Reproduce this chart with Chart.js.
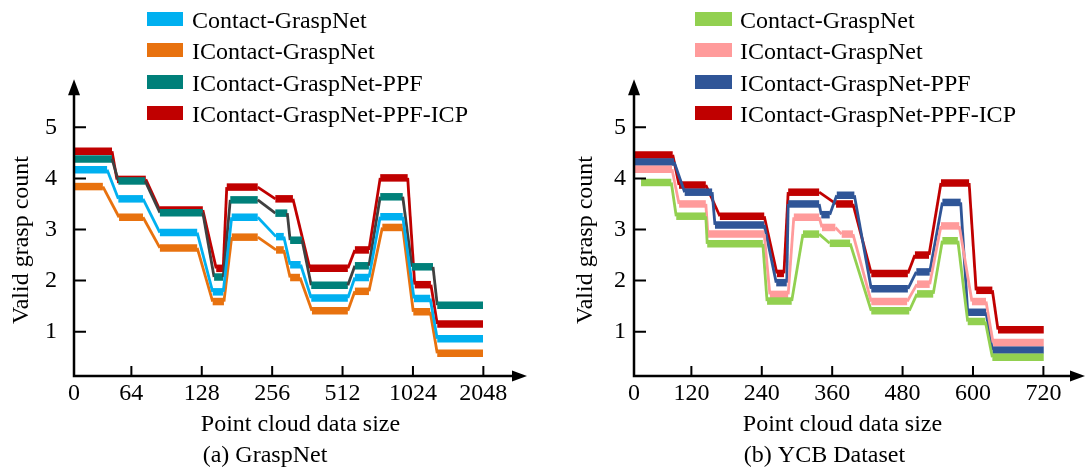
<!DOCTYPE html>
<html><head><meta charset="utf-8">
<script src="https://cdn.jsdelivr.net/npm/chart.js@4.4.1/dist/chart.umd.min.js"></script>
<style>
html,body{margin:0;padding:0;background:#fff;}
#wrap{position:relative;width:1085px;height:471px;overflow:hidden;font-family:"Liberation Serif","Times New Roman",serif;}
canvas{position:absolute;top:0;}
.lbox{position:absolute;height:14px;}
.ltxt{position:absolute;font-size:24px;line-height:24px;white-space:nowrap;color:#000;}
</style></head><body>
<div id="wrap">
<canvas id="c1" width="545" height="471" style="left:0px"></canvas>
<canvas id="c2" width="525" height="471" style="left:560px"></canvas>
</div>
<script>
// ---------- data ----------
const seriesNames = ['Contact-GraspNet','IContact-GraspNet','IContact-GraspNet-PPF','IContact-GraspNet-PPF-ICP'];
const gnTickLabels = ['0','64','128','256','512','1024','2048'];
const ycbTickLabels = ['0','120','240','360','480','600','720'];
const tickPos = [0, 0.815, 1.815, 2.815, 3.815, 4.815, 5.815];
const yTicks = [1, 2, 3, 4, 5];

// each step: [xStart, xEnd, value]
const gnContact = [[0.01,0.47,4.17],[0.63,0.98,3.60],[1.22,1.75,2.94],[1.97,2.12,1.78],[2.24,2.61,3.24],[2.87,2.98,2.86],[3.07,3.22,2.31],[3.37,3.89,1.66],[3.99,4.19,2.06],[4.35,4.67,3.25],[4.83,5.06,1.65],[5.16,5.81,0.86]];
const gnIContact = [[0.01,0.41,3.84],[0.64,0.98,3.24],[1.22,1.75,2.64],[1.97,2.13,1.59],[2.24,2.61,2.85],[2.87,2.98,2.60],[3.07,3.21,2.06],[3.38,3.89,1.41],[3.99,4.19,1.79],[4.38,4.67,3.04],[4.82,5.06,1.39],[5.16,5.81,0.58]];
const gnPPF = [[0,0.54,4.38],[0.63,1.01,3.95],[1.22,1.83,3.33],[1.99,2.12,2.07],[2.22,2.61,3.58],[2.86,3.03,3.32],[3.07,3.24,2.79],[3.37,3.89,1.91],[3.99,4.19,2.29],[4.35,4.67,3.64],[4.80,5.10,2.27],[5.16,5.81,1.52]];
const gnICP = [[0,0.54,4.53],[0.61,1.02,3.98],[1.22,1.83,3.38],[2.02,2.12,2.24],[2.17,2.61,3.83],[2.86,3.11,3.60],[3.35,3.89,2.24],[3.99,4.19,2.60],[4.35,4.74,4.01],[4.84,5.07,1.92],[5.16,5.81,1.15]];

const ycbContact = [[0.10,0.53,3.92],[0.60,1.02,3.26],[1.04,1.83,2.72],[1.89,2.24,1.60],[2.40,2.63,2.91],[2.78,3.07,2.73],[3.37,3.91,1.41],[4.02,4.25,1.74],[4.38,4.60,2.78],[4.74,4.99,1.20],[5.09,5.82,0.50]];
const ycbIContact = [[0.01,0.54,4.18],[0.64,1.02,3.50],[1.05,1.85,2.91],[1.93,2.19,1.73],[2.27,2.63,3.24],[2.67,2.86,3.04],[2.95,3.11,2.91],[3.37,3.88,1.59],[4.02,4.20,1.93],[4.36,4.62,3.07],[4.80,5.00,1.59],[5.10,5.82,0.79]];
const ycbPPF = [[0.01,0.57,4.32],[0.72,1.11,3.73],[1.15,1.85,3.09],[2.02,2.17,1.96],[2.19,2.63,3.50],[2.66,2.78,3.29],[2.88,3.13,3.67],[3.37,3.89,1.84],[4.01,4.20,2.17],[4.38,4.64,3.53],[4.74,5.00,1.38],[5.09,5.82,0.64]];
const ycbICP = [[0.01,0.55,4.46],[0.64,1.02,3.87],[1.22,1.85,3.26],[2.03,2.13,2.14],[2.19,2.63,3.73],[2.87,3.11,3.50],[3.37,3.89,2.14],[3.99,4.19,2.50],[4.36,4.76,3.91],[4.86,5.09,1.81],[5.17,5.82,1.04]];

const gnColors = ['#00B0F0','#E8720F','#00807A','#C00000'];
const gnLinkColors = ['#00B0F0','#E8720F','#404040','#C00000'];
const ycbColors = ['#92D050','#FF9B9B','#2F5597','#C00000'];
const ycbLinkColors = ['#92D050','#FF9B9B','#2F5597','#C00000'];

// ---------- style ----------
const FONT = '"Liberation Serif", "Times New Roman", serif';
const FS = 24;
Chart.defaults.font.family = FONT;
Chart.defaults.color = '#000';
const BAR_W = 7.5, LINK_W = 2.8;
const Y_MIN = 0.133, Y_MAX = 5.456, Y_TIP = 5.94;

const axesPlugin = {
  id: 'customAxes',
  afterDraw(chart, args, o) {
    const ctx = chart.ctx, xs = chart.scales.x, ys = chart.scales.y;
    const x0 = xs.getPixelForValue(0), y0 = ys.getPixelForValue(ys.min);
    const xt = xs.getPixelForValue(o.xTip), yt = ys.getPixelForValue(o.yTip);
    ctx.save();
    ctx.strokeStyle = '#000'; ctx.fillStyle = '#000';
    ctx.lineWidth = 2.5;
    ctx.beginPath();
    ctx.moveTo(x0, y0 + 1.25); ctx.lineTo(x0, yt + 10);
    ctx.moveTo(x0 - 1.25, y0); ctx.lineTo(xt - 10, y0);
    ctx.stroke();
    ctx.beginPath(); ctx.moveTo(x0, yt); ctx.lineTo(x0 - 6, yt + 16); ctx.lineTo(x0 + 6, yt + 16); ctx.closePath(); ctx.fill();
    ctx.beginPath(); ctx.moveTo(xt, y0); ctx.lineTo(xt - 15, y0 - 5.5); ctx.lineTo(xt - 15, y0 + 5.5); ctx.closePath(); ctx.fill();
    ctx.lineWidth = 2;
    ctx.beginPath();
    ys.ticks.forEach(t => { const p = ys.getPixelForValue(t.value); ctx.moveTo(x0, p); ctx.lineTo(x0 + 12, p); });
    xs.ticks.forEach(t => { if (t.value === 0) return; const p = xs.getPixelForValue(t.value); ctx.moveTo(p, y0); ctx.lineTo(p, y0 - 10); });
    ctx.stroke();
    ctx.font = FS + 'px ' + FONT; ctx.textAlign = 'center'; ctx.textBaseline = 'alphabetic';
    ctx.fillText(o.caption, o.captionX, o.captionY);
    ctx.restore();
  }
};

function makeChart(id, series, colors, linkColors, tickLabels, cfg) {
  const orders = [1, 2, 3, 4];
  const datasets = series.map((segs, i) => ({
    label: seriesNames[i],
    data: segs.flatMap(s => [{x: s[0], y: s[2]}, {x: s[1], y: s[2]}]),
    borderColor: colors[i], backgroundColor: colors[i],
    borderWidth: BAR_W, pointRadius: 0, pointHoverRadius: 0, tension: 0, fill: false,
    borderCapStyle: 'butt', borderJoinStyle: 'miter', order: orders[i],
    segment: {
      borderWidth: c => c.p0.parsed.y === c.p1.parsed.y ? BAR_W : LINK_W,
      borderColor: c => c.p0.parsed.y === c.p1.parsed.y ? colors[i] : linkColors[i]
    }
  }));
  return new Chart(document.getElementById(id), {
    type: 'line',
    data: { datasets },
    plugins: [axesPlugin],
    options: {
      responsive: false, animation: false, devicePixelRatio: 1,
      layout: { padding: { left: 0, top: 104, right: cfg.padRight, bottom: 30 } },
      plugins: {
        legend: { display: false }, tooltip: { enabled: false },
        customAxes: { xTip: cfg.xTip, yTip: Y_TIP, caption: cfg.caption, captionX: cfg.captionX, captionY: 462 }
      },
      scales: {
        x: {
          type: 'linear', min: 0, max: cfg.xMax,
          afterBuildTicks: s => { s.ticks = tickPos.map(v => ({ value: v })); },
          afterFit: s => { s.height = 65; },
          grid: { display: false, drawTicks: false }, border: { display: false },
          ticks: { autoSkip: false, maxRotation: 0, minRotation: 0, padding: 3.6, color: '#000',
                   font: { size: FS, family: FONT }, callback: (v, i) => tickLabels[i] },
          title: { display: true, text: 'Point cloud data size', color: '#000',
                   font: { size: FS, family: FONT }, padding: { top: 0, bottom: 1.6 } }
        },
        y: {
          type: 'linear', min: Y_MIN, max: Y_MAX,
          afterBuildTicks: s => { s.ticks = yTicks.map(v => ({ value: v })); },
          afterFit: s => { s.width = 74; },
          grid: { display: false, drawTicks: false }, border: { display: false },
          ticks: { padding: cfg.yLabPad, color: '#000', font: { size: FS, family: FONT },
                   callback: v => String(v) },
          title: { display: true, text: 'Valid grasp count', color: '#000',
                   font: { size: FS, family: FONT }, padding: { top: cfg.yTitlePad, bottom: 0 } }
        }
      }
    }
  });
}

makeChart('c1', [gnContact, gnIContact, gnPPF, gnICP], gnColors, gnLinkColors, gnTickLabels,
  { xMax: 6.435, xTip: 6.435, padRight: 18, yLabPad: 17, yTitlePad: 7.6, caption: '(a) GraspNet', captionX: 265 });
makeChart('c2', [ycbContact, ycbIContact, ycbPPF, ycbICP], ycbColors, ycbLinkColors, ycbTickLabels,
  { xMax: 5.923, xTip: 6.406, padRight: 34, yLabPad: 8, yTitlePad: 11.6, caption: '(b) YCB Dataset', captionX: 264.5 });

// ---------- HTML legends ----------
function buildLegend(boxX, boxW, textX, colors) {
  const wrap = document.getElementById('wrap');
  const capTops = [12, 43.5, 75, 106.5];
  seriesNames.forEach((name, i) => {
    const b = document.createElement('div');
    b.className = 'lbox';
    b.style.left = boxX + 'px'; b.style.top = (capTops[i] - 0.5) + 'px';
    b.style.width = boxW + 'px'; b.style.background = colors[i];
    wrap.appendChild(b);
    const t = document.createElement('div');
    t.className = 'ltxt';
    t.style.left = textX + 'px'; t.style.top = (capTops[i] - 4.2) + 'px';
    t.textContent = name;
    wrap.appendChild(t);
  });
}
buildLegend(147, 36, 192, gnColors);
buildLegend(695, 37, 740, ycbColors);
</script>
</body></html>
